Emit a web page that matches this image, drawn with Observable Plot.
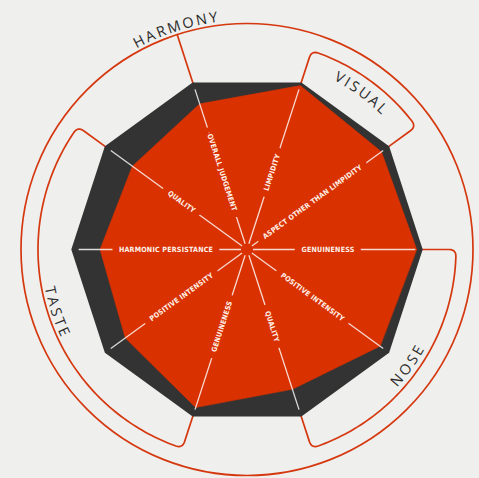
<!DOCTYPE html>
<html><head><meta charset="utf-8">
<script src="https://cdn.jsdelivr.net/npm/d3@7"></script>
<script src="https://cdn.jsdelivr.net/npm/@observablehq/plot@0.6"></script>
<style>
html,body{margin:0;padding:0;background:#efefed;}
#chart{width:479px;height:478px;overflow:hidden;}
</style>
</head><body><div id="chart"></div>
<script>
// ---- data ----
const axisLabels = ["GENUINENESS","ASPECT OTHER THAN LIMPIDITY","LIMPIDITY","OVERALL JUDGEMENT","QUALITY","HARMONIC PERSISTANCE","POSITIVE INTENSITY","GENUINENESS","QUALITY","POSITIVE INTENSITY"];
const axisAngles = [0,36,72,108,144,180,216,252,288,324];
const scores = [0.97,0.95,0.985,0.875,0.81,0.84,0.86,0.95,0.84,0.94];
const maxScore = 1;
const groupNames = ["HARMONY","VISUAL","NOSE","TASTE"];
const groupFrom = [108,36,-72,144];
const groupTo = [108,72,0,252];

// ---- style / layout ----
const RED = "#d93100", DARK = "#333333", LINE = "#d5380f", INK = "#2b2b2b";
const W = 479, H = 478, CX = 246.5, CY = 249, R = 175;
const PX = 1 / R;
const rad = a => a * Math.PI / 180;
const P = (r, a, extra) => Object.assign({x: r * Math.cos(rad(a)), y: r * Math.sin(rad(a))}, extra || {});

const axes = axisLabels.map((label, i) => ({label, angle: axisAngles[i], score: scores[i]}));

// polygons
const frame = axes.map(d => P(maxScore * 0.995, d.angle));
const poly = axes.map(d => P(d.score, d.angle));

// brackets
const RB = 209 * PX, F = 7 * PX, ROUT = 226 * PX;
const bracketPts = [];
function quad(p0, c, p1, name) {
  for (let t = 0; t <= 1.0001; t += 0.125) {
    const u = 1 - t;
    bracketPts.push({x: u*u*p0.x + 2*u*t*c.x + t*t*p1.x, y: u*u*p0.y + 2*u*t*c.y + t*t*p1.y, g: name});
  }
}
groupNames.forEach((name, i) => {
  const a1 = groupFrom[i], a2 = groupTo[i];
  if (a1 === a2) {
    bracketPts.push(P(maxScore, a1, {g: name}), P(ROUT, a1, {g: name}));
    return;
  }
  const da = (F / RB) * 180 / Math.PI;
  bracketPts.push(P(maxScore, a1, {g: name}));
  quad(P(RB - F, a1), P(RB, a1), P(RB, a1 + da), name);
  for (let a = a1 + da + 1; a < a2 - da; a += 1) bracketPts.push(P(RB, a, {g: name}));
  quad(P(RB, a2 - da), P(RB, a2), P(RB - F, a2), name);
  bracketPts.push(P(maxScore, a2, {g: name}));
});

// curved group labels, per character
const labelCfg = {HARMONY: {r: 234, cw: true}, VISUAL: {r: 195, cw: true}, NOSE: {r: 199, cw: false}, TASTE: {r: 201, cw: false}};
const GFONT = 14.5, GSP = 2.6, GW = 400, GFAM = '"Open Sans", "DejaVu Sans", sans-serif';
const ctx = document.createElement("canvas").getContext("2d");
ctx.font = `${GW} ${GFONT}px ${GFAM}`;
const chars = [];
groupNames.forEach((name, i) => {
  const cfg = labelCfg[name];
  const mid = (groupFrom[i] + groupTo[i]) / 2;
  const ws = [...name].map(c => ctx.measureText(c).width);
  const total = ws.reduce((a, b) => a + b, 0) + GSP * (ws.length - 1);
  let cum = 0;
  [...name].forEach((c, j) => {
    const s = cum + ws[j] / 2 - total / 2;
    cum += ws[j] + GSP;
    const a = mid + (cfg.cw ? -1 : 1) * (s / cfg.r) * 180 / Math.PI;
    chars.push(P(cfg.r * PX, a, {c, rot: cfg.cw ? 90 - a : -90 - a}));
  });
});

const LR = 81 * PX;
const chart = Plot.plot({
  width: W, height: H, margin: 0,
  style: {background: "#efefed", overflow: "visible"},
  x: {domain: [-CX * PX, (W - CX) * PX], range: [0, W], axis: null},
  y: {domain: [-(H - CY) * PX, CY * PX], range: [H, 0], axis: null},
  marks: [
    Plot.dot([0], {x: () => 0, y: () => 0, r: 226, stroke: LINE, strokeWidth: 1.7, fill: "none"}),
    Plot.line(bracketPts, {x: "x", y: "y", z: "g", stroke: LINE, strokeWidth: 1.7, strokeLinejoin: "round"}),
    Plot.line(frame, {x: "x", y: "y", curve: "linear-closed", fill: DARK, stroke: DARK, strokeWidth: 3, strokeLinejoin: "round"}),
    Plot.line(poly, {x: "x", y: "y", curve: "linear-closed", fill: RED, stroke: RED, strokeWidth: 0.5}),
    Plot.link(axes, {
      x1: d => 6 * PX * Math.cos(rad(d.angle)), y1: d => 6 * PX * Math.sin(rad(d.angle)),
      x2: d => 0.962 * Math.cos(rad(d.angle)), y2: d => 0.962 * Math.sin(rad(d.angle)),
      stroke: "#ffffff", strokeOpacity: 0.82, strokeWidth: 1.3
    }),
    Plot.text(axes, {
      x: d => LR * Math.cos(rad(d.angle)), y: d => LR * Math.sin(rad(d.angle)),
      text: "label",
      rotate: d => (d.angle > 90 && d.angle < 270) ? 180 - d.angle : -d.angle,
      fill: "#fff1ea", stroke: RED, strokeWidth: 14, strokeLinejoin: "round", paintOrder: "stroke",
      fontSize: 7.1, fontWeight: "bold",
      fontFamily: '"Liberation Sans Narrow", "DejaVu Sans Condensed", "Roboto", sans-serif',
      textAnchor: "middle", lineAnchor: "middle"
    }),
    Plot.text(chars, {
      x: "x", y: "y", text: "c", rotate: "rot",
      fill: INK, fontSize: GFONT, fontWeight: GW, fontFamily: GFAM,
      textAnchor: "middle", lineAnchor: "middle"
    })
  ]
});
chart.style.letterSpacing = "0.2px";
document.getElementById("chart").appendChild(chart);
</script>
</body></html>
